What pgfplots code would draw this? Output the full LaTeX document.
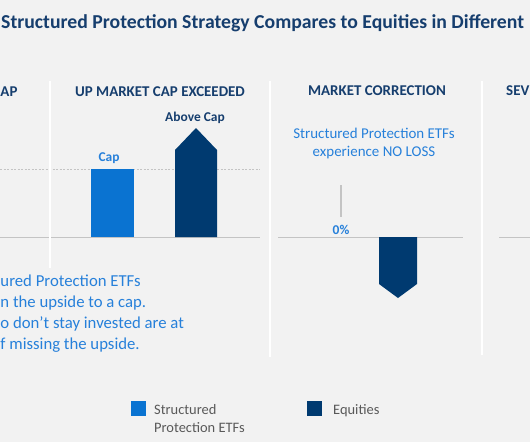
\documentclass[border=0pt]{standalone}
\usepackage{fontspec}
\setmainfont{Carlito}
\usepackage{pgfplots}
\pgfplotsset{compat=1.18}
\definecolor{bg}{HTML}{F2F2F2}
\definecolor{navy}{HTML}{003A70}
\definecolor{navytext}{HTML}{163E6E}
\definecolor{sblue}{HTML}{0A73D1}
\definecolor{tblue}{HTML}{2680DA}
\definecolor{lgray}{HTML}{C4C4C4}
\definecolor{legtext}{HTML}{595959}
\begin{document}
\begin{tikzpicture}
\useasboundingbox (0,0) rectangle (530bp,442bp);
\clip (0,0) rectangle (530bp,442bp);
\fill[bg] (0,0) rectangle (530bp,442bp);
\begin{axis}[at={(0,0)}, anchor=south west, x=1bp, y=1bp,
  xmin=0, xmax=530, ymin=0, ymax=442, y dir=reverse,
  axis lines=none, clip=false]
% zero lines and cap line
\addplot[lgray, line width=1bp] coordinates {(0,237) (260,237)};
\addplot[lgray, line width=1bp] coordinates {(278,237) (463,237)};
\addplot[lgray, line width=1bp] coordinates {(499,237) (530,237)};
\addplot[lgray, line width=0.8bp, dash pattern=on 2bp off 1.5bp] coordinates {(0,169) (260,169)};
\addplot[lgray, line width=1.5bp] coordinates {(341,185) (341,217)};
% bars
\addplot[fill=sblue, draw=none] coordinates {(91,237) (91,169) (134,169) (134,237)} -- cycle;
\addplot[fill=navy, draw=none] coordinates {(175,237) (175,150) (196,128) (217,150) (217,237)} -- cycle;
\addplot[fill=navy, draw=none] coordinates {(379,237) (379,284) (398,298) (417,284) (417,237)} -- cycle;
% legend squares
\addplot[fill=sblue, draw=none] coordinates {(131,401) (146,401) (146,416) (131,416)} -- cycle;
\addplot[fill=navy, draw=none] coordinates {(307,401) (322,401) (322,416) (307,416)} -- cycle;
% separators
\addplot[white, line width=2.2bp] coordinates {(50,81) (50,268)};
\addplot[white, line width=2.2bp] coordinates {(270,81) (270,357)};
\addplot[white, line width=2.2bp] coordinates {(482,81) (482,355)};
% title
\node[anchor=base west, text=navytext, font=\bfseries\fontsize{19.8}{24}\selectfont, inner sep=0pt]
  at (axis cs:1,28) {Structured Protection Strategy Compares to Equities in Different};
% panel titles
\begin{scope}[every node/.style={text=navytext, font=\bfseries\fontsize{15}{18}\selectfont, inner sep=0pt}]
\node[anchor=base west] at (axis cs:0.3,96) {AP};
\node[anchor=base] at (axis cs:160,96) {UP MARKET CAP EXCEEDED};
\node[anchor=base] at (axis cs:377,95) {MARKET CORRECTION};
\node[anchor=base west] at (axis cs:506,95) {SEV};
\end{scope}
% bar labels
\node[anchor=base, text=navytext, font=\bfseries\fontsize{13.5}{16}\selectfont, inner sep=0pt] at (axis cs:195,121) {Above Cap};
\node[anchor=base, text=tblue, font=\bfseries\fontsize{13.5}{16}\selectfont, inner sep=0pt] at (axis cs:109,161) {Cap};
\node[anchor=base, text=tblue, font=\bfseries\fontsize{13.5}{16}\selectfont, inner sep=0pt] at (axis cs:341,234) {0\%};
% notes
\begin{scope}[every node/.style={text=tblue, font=\fontsize{15}{18}\selectfont, inner sep=0pt}]
\node[anchor=base] at (axis cs:374,138) {Structured Protection ETFs};
\node[anchor=base] at (axis cs:374,156) {experience NO LOSS};
\end{scope}
\begin{scope}[every node/.style={text=tblue, font=\fontsize{16.8}{20}\selectfont, inner sep=0pt, anchor=base west}]
\node at (axis cs:0.3,286) {ured Protection ETFs};
\node at (axis cs:0.3,307) {n the upside to a cap.};
\node at (axis cs:0.3,328) {o don’t stay invested are at};
\node at (axis cs:0.3,349) {f missing the upside.};
\end{scope}
% legend text
\begin{scope}[every node/.style={text=legtext, font=\fontsize{14.5}{18}\selectfont, inner sep=0pt, anchor=base west}]
\node at (axis cs:154,414) {Structured};
\node at (axis cs:154,432) {Protection ETFs};
\node at (axis cs:333,414) {Equities};
\end{scope}
\end{axis}
\end{tikzpicture}
\end{document}
